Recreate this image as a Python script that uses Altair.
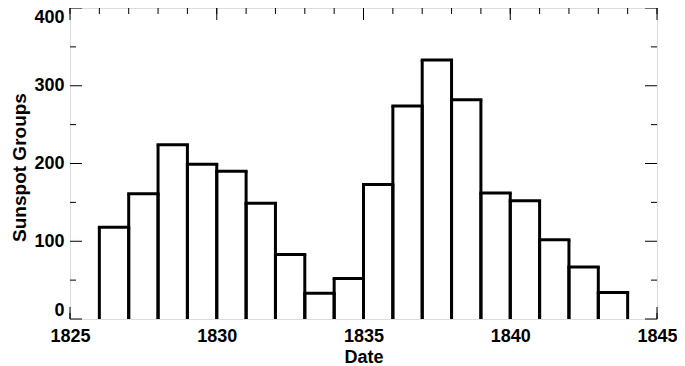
import altair as alt
import pandas as pd

# Data
years = [1826, 1827, 1828, 1829, 1830, 1831, 1832, 1833, 1834,
         1835, 1836, 1837, 1838, 1839, 1840, 1841, 1842, 1843]
groups = [118, 161, 224, 199, 190, 149, 83, 33, 52,
          173, 274, 333, 282, 162, 152, 102, 67, 34]

x_major = [1825, 1830, 1835, 1840, 1845]
x_minor = list(range(1825, 1846))
y_major = [0, 100, 200, 300, 400]
y_minor = [50, 150, 250, 350]

W, H = 587, 311
MAJ, MIN = 12, 6
FONT = "Liberation Sans"

xs = alt.Scale(domain=[1825, 1845], nice=False, zero=False)
ys = alt.Scale(domain=[0, 400], nice=False)

x_axis = alt.Axis(values=x_major, format="d", grid=False, ticks=False, domain=False,
                  labelFont=FONT, labelFontSize=18, labelFontWeight="bold", labelColor="black",
                  labelPadding=8, labelFlush=False,
                  title="Date", titleFont=FONT, titleFontSize=18, titleFontWeight="bold",
                  titleColor="black", titleY=38, titleBaseline="middle")
y_axis = alt.Axis(values=y_major, format="d", grid=False, ticks=False, domain=False,
                  labelFont=FONT, labelFontSize=18, labelFontWeight="bold", labelColor="black",
                  labelPadding=6, labelFlush=True,
                  title="Sunspot Groups", titleFont=FONT, titleFontSize=19, titleFontWeight="bold",
                  titleColor="black", titleX=-51, titleY=159, titleBaseline="middle")


def xe(f):
    return alt.X(f, scale=xs, axis=x_axis)


def ye(f):
    return alt.Y(f, scale=ys, axis=y_axis)


bars = alt.Chart(pd.DataFrame({"start": years, "count": groups})).transform_calculate(
    end="datum.start + 1", zero="0")

left_sides = bars.mark_rule(color="black", strokeWidth=3).encode(
    x=xe("start:Q"), y=ye("count:Q"), y2="zero:Q")
right_sides = bars.mark_rule(color="black", strokeWidth=3).encode(
    x=xe("end:Q"), y=ye("count:Q"), y2="zero:Q")
tops = bars.mark_rule(color="black", strokeWidth=3, strokeCap="square").encode(
    x=xe("start:Q"), x2="end:Q", y=ye("count:Q"))

xmaj = alt.Chart(pd.DataFrame({"v": x_major}))
xmin = alt.Chart(pd.DataFrame({"v": x_minor}))
ymaj = alt.Chart(pd.DataFrame({"v": y_major}))
ymin = alt.Chart(pd.DataFrame({"v": y_minor}))

tick_layers = []
for src, L in [(xmaj, MAJ), (xmin, MIN)]:
    tick_layers.append(src.mark_rule(color="black", strokeWidth=1).encode(
        x=xe("v:Q"), y=alt.value(H), y2=alt.value(H - L)))
    tick_layers.append(src.mark_rule(color="black", strokeWidth=1).encode(
        x=xe("v:Q"), y=alt.value(0), y2=alt.value(L)))
for src, L in [(ymaj, MAJ), (ymin, MIN)]:
    tick_layers.append(src.mark_rule(color="black", strokeWidth=1).encode(
        y=ye("v:Q"), x=alt.value(0), x2=alt.value(L)))
    tick_layers.append(src.mark_rule(color="black", strokeWidth=1).encode(
        y=ye("v:Q"), x=alt.value(W), x2=alt.value(W - L)))

chart = alt.layer(left_sides, right_sides, tops, *tick_layers).properties(
    width=W, height=H,
    autosize=alt.AutoSizeParams(type="none"),
    padding={"left": 62, "top": 0, "right": 20, "bottom": 55},
).configure_view(stroke="black", strokeWidth=1).configure(background="white")

chart.save("out.html", embed_options={"renderer": "svg", "actions": False})
